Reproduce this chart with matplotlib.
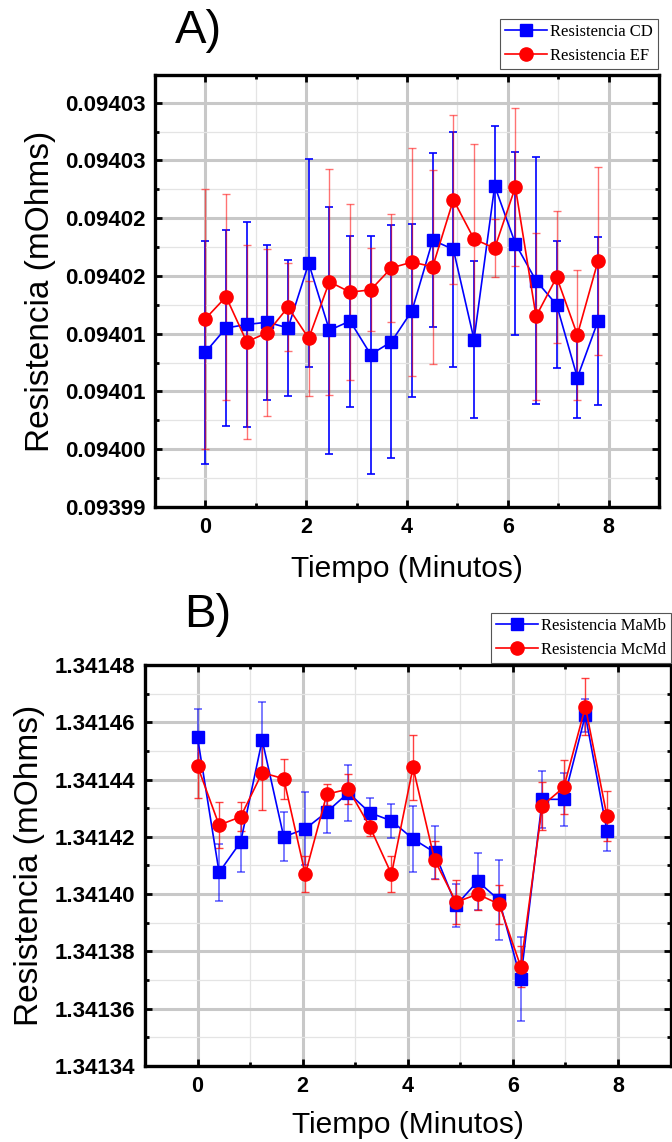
import matplotlib
matplotlib.use('Agg')
import matplotlib.pyplot as plt
from matplotlib.ticker import MultipleLocator, FixedLocator, FixedFormatter

# tiempo de cada medicion (minutos)
tiempo = [0.0, 0.41, 0.82, 1.23, 1.64, 2.05, 2.46, 2.87, 3.28, 3.69,
          4.10, 4.51, 4.92, 5.33, 5.74, 6.15, 6.56, 6.97, 7.38, 7.79]

# panel A
res_cd = [0.0940084, 0.0940105, 0.0940108, 0.0940110, 0.0940105, 0.0940161, 0.0940103, 0.0940111, 0.0940082, 0.0940093,
          0.0940120, 0.0940181, 0.0940173, 0.0940095, 0.0940228, 0.0940178, 0.0940146, 0.0940125, 0.0940062, 0.0940111]
err_cd = [9.65e-6, 8.5e-6, 8.9e-6, 6.7e-6, 5.85e-6, 9.0e-6, 10.7e-6, 7.4e-6, 10.3e-6, 10.1e-6,
          7.5e-6, 7.55e-6, 10.2e-6, 6.8e-6, 5.2e-6, 7.95e-6, 10.7e-6, 5.5e-6, 3.5e-6, 7.25e-6]
res_ef = [0.0940113, 0.0940132, 0.0940093, 0.0940101, 0.0940123, 0.0940096, 0.0940145, 0.0940136, 0.0940138, 0.0940157,
          0.0940162, 0.0940158, 0.0940216, 0.0940182, 0.0940174, 0.0940227, 0.0940115, 0.0940149, 0.0940099, 0.0940163]
err_ef = [11.25e-6, 8.9e-6, 8.4e-6, 7.2e-6, 3.8e-6, 5.0e-6, 9.8e-6, 7.6e-6, 3.6e-6, 4.7e-6,
          9.9e-6, 8.4e-6, 7.3e-6, 8.2e-6, 2.5e-6, 6.8e-6, 7.25e-6, 5.7e-6, 5.6e-6, 8.1e-6]
yticks_a = [0.093995, 0.094000, 0.094005, 0.094010, 0.094015, 0.094020, 0.094025, 0.094030]
ylabels_a = ['0.09399', '0.09400', '0.09401', '0.09401', '0.09402', '0.09402', '0.09403', '0.09403']

# panel B
res_mamb = [1.3414547, 1.3414076, 1.3414182, 1.3414538, 1.3414200, 1.3414228, 1.3414287, 1.3414354, 1.3414284, 1.3414256,
            1.3414193, 1.3414146, 1.3413961, 1.3414045, 1.3413979, 1.3413703, 1.3414331, 1.3414331, 1.3414625, 1.3414221]
err_mamb = [1.0e-5, 1.0e-5, 1.06e-5, 1.34e-5, 0.86e-5, 1.27e-5, 0.75e-5, 0.97e-5, 0.5e-5, 0.6e-5,
            1.15e-5, 0.93e-5, 0.75e-5, 0.99e-5, 1.4e-5, 1.47e-5, 1.0e-5, 0.93e-5, 0.58e-5, 0.71e-5]
res_mcmd = [1.3414447, 1.3414241, 1.3414270, 1.3414424, 1.3414403, 1.3414070, 1.3414349, 1.3414367, 1.3414235, 1.3414070,
            1.3414443, 1.3414120, 1.3413972, 1.3414000, 1.3413965, 1.3413747, 1.3414309, 1.3414373, 1.3414654, 1.3414273]
err_mcmd = [1.1e-5, 0.8e-5, 0.5e-5, 1.3e-5, 0.7e-5, 0.63e-5, 0.37e-5, 0.52e-5, 0.31e-5, 0.63e-5,
            1.13e-5, 0.67e-5, 0.77e-5, 0.56e-5, 0.68e-5, 0.71e-5, 0.84e-5, 0.94e-5, 1.0e-5, 0.88e-5]
yticks_b = [1.34134, 1.34136, 1.34138, 1.34140, 1.34142, 1.34144, 1.34146, 1.34148]
ylabels_b = ['1.34134', '1.34136', '1.34138', '1.34140', '1.34142', '1.34144', '1.34146', '1.34148']

W, H = 672, 1142
fig = plt.figure(figsize=(W / 100, H / 100), dpi=100)

sans = 'Liberation Sans'
serif = 'Liberation Serif'


def style_axes(ax, yticks, ylabels, ylim, yminor):
    ax.set_xlim(-1, 9)
    ax.set_ylim(*ylim)
    ax.xaxis.set_major_locator(FixedLocator([0, 2, 4, 6, 8]))
    ax.xaxis.set_minor_locator(MultipleLocator(1))
    ax.yaxis.set_major_locator(FixedLocator(yticks))
    ax.yaxis.set_major_formatter(FixedFormatter(ylabels))
    ax.yaxis.set_minor_locator(MultipleLocator(yminor))
    ax.grid(which='major', color='#c8c8c8', linewidth=2.2, zorder=0)
    ax.grid(which='minor', color='#e4e4e4', linewidth=0.9, zorder=0)
    ax.set_axisbelow(True)
    ax.tick_params(which='both', direction='in', top=True, right=True)
    ax.tick_params(which='major', length=5, width=2, pad=7)
    ax.tick_params(which='minor', length=3, width=2)
    for lab in ax.get_yticklabels():
        lab.set_fontfamily(sans)
        lab.set_fontweight('bold')
        lab.set_fontsize(16)
    for lab in ax.get_xticklabels():
        lab.set_fontfamily(sans)
        lab.set_fontweight('bold')
        lab.set_fontsize(15.5)
    for sp in ax.spines.values():
        sp.set_linewidth(2.4)
    ax.set_xlabel('Tiempo (Minutos)', fontfamily=sans, fontsize=21.5)
    ax.set_ylabel('Resistencia (mOhms)', fontfamily=sans, fontsize=24)


def draw(ax, x, y1, e1, y2, e2, lab1, lab2, a1, a2):
    ax.errorbar(x, y1, yerr=e1, fmt='none', ecolor='#0000ff', elinewidth=1.2,
                capsize=3, capthick=1.2, alpha=a1, zorder=2)
    ax.errorbar(x, y2, yerr=e2, fmt='none', ecolor='#ff0000', elinewidth=1.0,
                capsize=3, capthick=1.0, alpha=a2, zorder=2.5)
    ax.plot(x, y1, '-', color='#0000ff', lw=1.2, marker='s', ms=8.5,
            mec='#0000ff', mfc='#0000ff', label=lab1, zorder=3)
    ax.plot(x, y2, '-', color='#ff0000', lw=1.2, marker='o', ms=9.5,
            mec='#ff0000', mfc='#ff0000', label=lab2, zorder=4)


def add_legend(ax, right, top):
    leg = ax.legend(loc='upper right', bbox_to_anchor=(right / W, 1 - top / H), bbox_transform=fig.transFigure,
                    prop={'family': serif, 'size': 12}, fancybox=False, edgecolor='#555555',
                    framealpha=1, borderpad=0.3, labelspacing=0.45, handlelength=2.5,
                    handletextpad=0.2, borderaxespad=0)
    leg.get_frame().set_linewidth(0.8)


# ---- panel A
axA = fig.add_axes([155 / W, 1 - 507 / H, 504 / W, 432 / H])
draw(axA, tiempo, res_cd, err_cd, res_ef, err_ef, 'Resistencia CD', 'Resistencia EF', 1.0, 0.55)
style_axes(axA, yticks_a, ylabels_a, (0.093995, 0.0940324), 2.5e-6)
axA.yaxis.set_label_coords(-0.196, 0.5)
axA.xaxis.set_label_coords(0.5, -0.11)
add_legend(axA, 658, 19)
fig.text(198 / W, 1 - 42.7 / H, 'A)', fontfamily=sans, fontsize=34, ha='center', va='baseline')

# ---- panel B
axB = fig.add_axes([145 / W, 1 - 1066 / H, 525.5 / W, 401 / H])
draw(axB, tiempo, res_mamb, err_mamb, res_mcmd, err_mcmd, 'Resistencia MaMb', 'Resistencia McMd', 0.6, 0.75)
style_axes(axB, yticks_b, ylabels_b, (1.34134, 1.34148), 1e-5)
axB.yaxis.set_label_coords(-0.19, 0.5)
axB.xaxis.set_label_coords(0.5, -0.112)
add_legend(axB, 671, 613)
fig.text(208 / W, 1 - 626.7 / H, 'B)', fontfamily=sans, fontsize=34, ha='center', va='baseline')

fig.savefig('out.png', dpi=100)
